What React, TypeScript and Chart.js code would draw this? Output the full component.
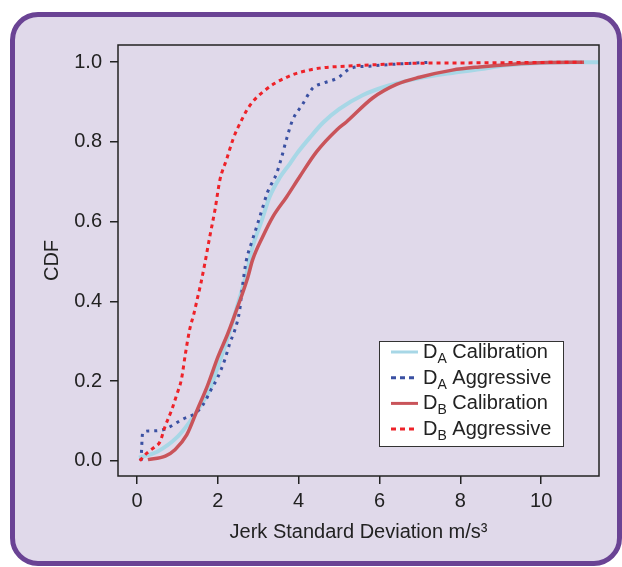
import React, { useEffect, useRef } from "react";
import { Chart, registerables } from "chart.js";

Chart.register(...registerables);

// ---- data ----
const X_TICKS = [0, 2, 4, 6, 8, 10];
const Y_TICKS = [0, 0.2, 0.4, 0.6, 0.8, 1.0];

const daCalX = [0.05, 0.5, 1.0, 1.3, 1.58, 1.83, 2.0, 2.17, 2.33, 2.45, 2.71, 2.86, 3.09, 3.28, 3.53, 3.78, 3.95, 4.27, 4.6, 5.0, 5.58, 6.25, 7.0, 7.8, 8.47, 9.13, 10.0, 11.43];
const daCalY = [0.008, 0.023, 0.06, 0.097, 0.14, 0.185, 0.236, 0.286, 0.336, 0.378, 0.47, 0.537, 0.604, 0.662, 0.71, 0.745, 0.77, 0.81, 0.848, 0.882, 0.917, 0.942, 0.96, 0.973, 0.982, 0.992, 0.998, 1.0];

const daAggX = [0.1, 0.14, 0.3, 0.64, 1.14, 1.45, 1.63, 1.83, 2.0, 2.17, 2.3, 2.42, 2.54, 2.6, 2.7, 2.83, 2.96, 3.09, 3.23, 3.45, 3.58, 3.68, 3.85, 4.07, 4.35, 4.6, 4.96, 5.3, 5.75, 6.4, 7.3];
const daAggY = [0.0, 0.07, 0.075, 0.078, 0.105, 0.12, 0.14, 0.178, 0.21, 0.253, 0.296, 0.328, 0.378, 0.43, 0.5, 0.546, 0.587, 0.629, 0.674, 0.72, 0.762, 0.8, 0.855, 0.89, 0.935, 0.947, 0.96, 0.985, 0.99, 0.995, 1.0];

const dbCalX = [0.27, 0.7, 0.94, 1.23, 1.5, 1.75, 2.0, 2.25, 2.49, 2.74, 2.86, 3.11, 3.36, 3.7, 4.02, 4.44, 4.94, 5.18, 5.83, 6.42, 6.99, 7.8, 8.47, 9.3, 10.2, 11.06];
const dbCalY = [0.003, 0.012, 0.028, 0.065, 0.13, 0.19, 0.26, 0.32, 0.386, 0.46, 0.504, 0.562, 0.612, 0.662, 0.712, 0.775, 0.83, 0.85, 0.91, 0.944, 0.962, 0.98, 0.988, 0.995, 0.999, 1.0];

const dbAggX = [0.07, 0.25, 0.44, 0.57, 0.69, 0.86, 0.98, 1.1, 1.2, 1.3, 1.41, 1.5, 1.58, 1.68, 1.8, 1.93, 2.05, 2.22, 2.37, 2.47, 2.6, 2.72, 2.9, 3.11, 3.41, 3.7, 3.95, 4.52, 5.18, 6.0, 6.8, 8.0, 9.5, 11.0];
const dbAggY = [0.0, 0.02, 0.035, 0.048, 0.085, 0.128, 0.165, 0.205, 0.27, 0.328, 0.37, 0.41, 0.445, 0.496, 0.562, 0.63, 0.704, 0.757, 0.805, 0.83, 0.857, 0.88, 0.905, 0.925, 0.947, 0.962, 0.972, 0.985, 0.99, 0.994, 0.997, 0.998, 0.999, 1.0];

const SERIES_MAIN = ["D", "D", "D", "D"];
const SERIES_SUB = ["A", "A", "B", "B"];
const SERIES_REST = ["Calibration", "Aggressive", "Calibration", "Aggressive"];
const SERIES_COLORS = ["#A7D7E6", "#3A50A2", "#C9545A", "#EE2229"];
const SERIES_DASH: number[][] = [[], [3, 5], [], [4, 4]];
const SERIES_WIDTH = [4, 3, 3.5, 3];

const X_TITLE = "Jerk Standard Deviation m/s\u00B3";
const Y_TITLE = "CDF";

const FONT = "'Liberation Sans', Arial, sans-serif";
const TEXT = "#222";

const zip = (xs: number[], ys: number[]) => xs.map((x, i) => ({ x, y: ys[i] }));

const boxLegendPlugin = {
  id: "boxLegend",
  afterDatasetsDraw(chart: any) {
    const { ctx, chartArea: a } = chart;
    ctx.save();
    ctx.strokeStyle = TEXT;
    ctx.lineWidth = 1.5;
    ctx.strokeRect(a.left, a.top, a.right - a.left, a.bottom - a.top);
    ctx.restore();
  },
  afterDraw(chart: any) {
    const { ctx } = chart;
    const bx = 379, by = 341, bw = 184, bh = 105;
    ctx.save();
    ctx.fillStyle = "#fff";
    ctx.fillRect(bx, by, bw, bh);
    ctx.strokeStyle = "#333";
    ctx.lineWidth = 1;
    ctx.strokeRect(bx + 0.5, by + 0.5, bw, bh);
    for (let i = 0; i < 4; i++) {
      const base = 358 + i * 25.7;
      const ly = base - 6;
      ctx.strokeStyle = SERIES_COLORS[i];
      ctx.lineWidth = 3;
      ctx.setLineDash(SERIES_DASH[i].length ? [5, 4] : []);
      ctx.beginPath();
      ctx.moveTo(391, ly);
      ctx.lineTo(418, ly);
      ctx.stroke();
      ctx.setLineDash([]);
      ctx.fillStyle = TEXT;
      ctx.textBaseline = "alphabetic";
      ctx.textAlign = "left";
      ctx.font = `20px ${FONT}`;
      let x = 423;
      ctx.fillText(SERIES_MAIN[i], x, base);
      x += ctx.measureText(SERIES_MAIN[i]).width;
      ctx.font = `14px ${FONT}`;
      ctx.fillText(SERIES_SUB[i], x, base + 5);
      x += ctx.measureText(SERIES_SUB[i]).width;
      ctx.font = `20px ${FONT}`;
      x += ctx.measureText(" ").width;
      ctx.fillText(SERIES_REST[i], x, base);
    }
    ctx.restore();
  },
};

export default function App() {
  const ref = useRef<HTMLCanvasElement | null>(null);

  useEffect(() => {
    if (!ref.current) return;
    Chart.defaults.font.family = FONT;
    const xs = [daCalX, daAggX, dbCalX, dbAggX];
    const ys = [daCalY, daAggY, dbCalY, dbAggY];
    const chart = new Chart(ref.current, {
      type: "scatter",
      data: {
        datasets: xs.map((xv, i) => ({
          label: `${SERIES_MAIN[i]}${SERIES_SUB[i]} ${SERIES_REST[i]}`,
          data: zip(xv, ys[i]),
          showLine: true,
          borderColor: SERIES_COLORS[i],
          backgroundColor: SERIES_COLORS[i],
          borderWidth: SERIES_WIDTH[i],
          borderDash: SERIES_DASH[i],
          pointRadius: 0,
          cubicInterpolationMode: "monotone",
          order: 4 - i,
        })),
      },
      options: {
        responsive: false,
        devicePixelRatio: 1,
        animation: false,
        layout: { padding: { left: 36, top: 45, right: 23, bottom: 19 } },
        plugins: { legend: { display: false }, tooltip: { enabled: false } },
        scales: {
          x: {
            type: "linear",
            min: -0.47,
            max: 11.43,
            afterFit: (s: any) => { s.height = 72; },
            afterBuildTicks: (s: any) => { s.ticks = X_TICKS.map((v) => ({ value: v })); },
            border: { display: false },
            grid: { display: true, drawOnChartArea: false, drawTicks: true, tickLength: 8, color: TEXT, lineWidth: 1.5 },
            ticks: { color: TEXT, font: { size: 20 }, padding: 5, maxRotation: 0, callback: (v: any) => String(v) },
            title: { display: true, text: X_TITLE, color: TEXT, font: { size: 20 }, padding: { top: 4, bottom: 4 } },
          },
          y: {
            type: "linear",
            min: -0.038,
            max: 1.043,
            afterFit: (s: any) => { s.width = 82; },
            afterBuildTicks: (s: any) => { s.ticks = Y_TICKS.map((v) => ({ value: v })); },
            border: { display: false },
            grid: { display: true, drawOnChartArea: false, drawTicks: true, tickLength: 8, color: TEXT, lineWidth: 1.5 },
            ticks: { color: TEXT, font: { size: 20 }, padding: 8, callback: (v: any) => Number(v).toFixed(1) },
            title: { display: true, text: Y_TITLE, color: TEXT, font: { size: 20 }, padding: { top: 4, bottom: 4 } },
          },
        },
      },
      plugins: [boxLegendPlugin],
    } as any);
    return () => chart.destroy();
  }, []);

  return (
    <div style={{ position: "fixed", left: 0, top: 0, width: 622, height: 567, background: "#fff", overflow: "hidden" }}>
      <div
        style={{
          position: "absolute",
          left: 10,
          top: 12,
          width: 602,
          height: 544,
          border: "5px solid #6A4394",
          borderRadius: 28,
          background: "#E0D9EA",
        }}
      />
      <canvas ref={ref} width={622} height={567} style={{ position: "absolute", left: 0, top: 0, width: 622, height: 567 }} />
    </div>
  );
}
